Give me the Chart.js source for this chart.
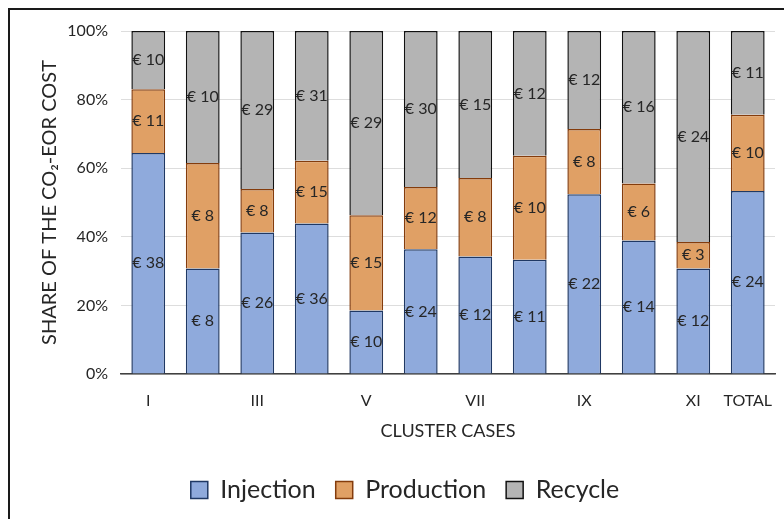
<!DOCTYPE html>
<html>
<head>
<meta charset="utf-8">
<script src="https://cdn.jsdelivr.net/npm/chart.js@4.4.1/dist/chart.umd.min.js"></script>
<style>
html,body{margin:0;padding:0;background:#fff;}
#wrap{width:784px;height:519px;position:relative;}
</style>
</head>
<body>
<div id="wrap"><canvas id="c" width="784" height="519"></canvas></div>
<script>
const categories = ['I','II','III','IV','V','VI','VII','VIII','IX','X','XI','TOTAL'];
const injection  = [38, 8, 26, 36, 10, 24, 12, 11, 22, 14, 12, 24];
const production = [11, 8, 8, 15, 15, 12, 8, 10, 8, 6, 3, 10];
const recycle    = [10, 10, 29, 31, 29, 30, 15, 12, 12, 16, 24, 11];
const yTicks = [0, 20, 40, 60, 80, 100];

const totals = categories.map((_, i) => injection[i] + production[i] + recycle[i]);
const share = arr => arr.map((v, i) => v / totals[i] * 100);

const FONT = 'Lato';

const frame = {
  id: 'frame',
  afterDraw(chart) {
    const ctx = chart.ctx;
    ctx.save();
    ctx.strokeStyle = '#1a1a1a';
    ctx.lineWidth = 2;
    ctx.beginPath();
    ctx.moveTo(9, 519);
    ctx.lineTo(9, 9);
    ctx.lineTo(784, 9);
    ctx.stroke();
    ctx.restore();
  }
};

const labels = {
  id: 'valueLabels',
  afterDatasetsDraw(chart) {
    const ctx = chart.ctx;
    ctx.save();
    ctx.font = '16px ' + FONT;
    ctx.fillStyle = '#262626';
    ctx.textAlign = 'center';
    ctx.textBaseline = 'middle';
    chart.data.datasets.forEach((ds, di) => {
      const meta = chart.getDatasetMeta(di);
      meta.data.forEach((bar, i) => {
        const y = (bar.y + bar.base) / 2;
        ctx.fillText('€ ' + ds.raw[i], bar.x, y);
      });
    });
    ctx.restore();
  }
};

new Chart(document.getElementById('c'), {
  type: 'bar',
  data: {
    labels: categories,
    datasets: [
      {label: 'Injection', raw: injection, data: share(injection), backgroundColor: '#8FAADC', borderColor: '#1F3864', borderWidth: 1.5},
      {label: 'Production', raw: production, data: share(production), backgroundColor: '#E0A065', borderColor: '#843C0C', borderWidth: 1.5},
      {label: 'Recycle', raw: recycle, data: share(recycle), backgroundColor: '#B4B4B4', borderColor: '#111111', borderWidth: 1.5}
    ]
  },
  options: {
    responsive: false,
    animation: false,
    devicePixelRatio: 1,
    layout: {padding: {left: 35, right: 9, top: 31, bottom: 6.5}},
    datasets: {bar: {categoryPercentage: 1, barPercentage: 0.62}},
    plugins: {
      legend: {
        position: 'bottom',
        labels: {
          font: {family: FONT, size: 25},
          color: '#262626',
          boxWidth: 17, boxHeight: 17,
          padding: 20
        }
      },
      tooltip: {enabled: false}
    },
    scales: {
      x: {
        stacked: true,
        grid: {display: false, drawTicks: false},
        border: {display: true, color: '#404040', width: 1.5},
        ticks: {
          autoSkip: false, maxRotation: 0, padding: 8,
          font: {family: FONT, size: 16, lineHeight: 2.4}, color: '#262626',
          callback: function(v, i) { return (i % 2 === 0 || i === categories.length - 1) ? categories[i] : ''; }
        },
        title: {display: true, text: 'CLUSTER CASES', font: {family: FONT, size: 18}, color: '#262626', padding: {top: 0, bottom: 16}},
        afterFit(s) { s.height = 83.5; }
      },
      y: {
        stacked: true,
        min: 0, max: 100,
        afterBuildTicks(s) { s.ticks = yTicks.map(v => ({value: v})); },
        grid: {color: '#DDDDDD', lineWidth: 1, drawTicks: false},
        border: {display: false},
        ticks: {padding: 13, font: {family: FONT, size: 16}, color: '#262626', callback: v => v + '%'},
        title: {display: true, text: 'SHARE OF THE CO₂-EOR COST', font: {family: FONT, size: 20}, color: '#262626', padding: {top: 3, bottom: 0}},
        afterFit(s) { s.width = 86; }
      }
    }
  },
  plugins: [frame, labels]
});
</script>
</body>
</html>
